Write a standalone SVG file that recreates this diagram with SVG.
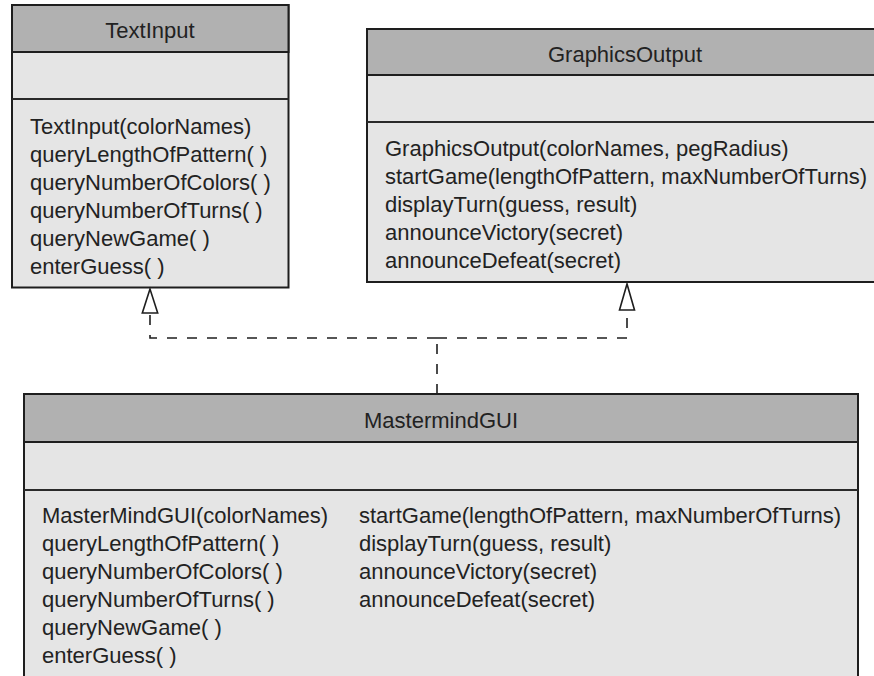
<svg xmlns="http://www.w3.org/2000/svg" width="874" height="676" viewBox="0 0 874 676">
<style>
.hdr{fill:#b1b1b1;stroke:#1e1e1e;stroke-width:2}
.body{fill:#e5e5e5;stroke:#1e1e1e;stroke-width:2}
.sep{stroke:#2a2a2a;stroke-width:2}
text{font-family:"Liberation Sans",Arial,sans-serif;font-size:22px;fill:#222}
.t{text-anchor:middle}
.dash{fill:none;stroke:#1e1e1e;stroke-width:1.6;stroke-dasharray:10 10}
.head{fill:#fff;stroke:#1e1e1e;stroke-width:1.6}
</style>
<rect width="874" height="676" fill="#fff"/>
<g id="TextInput">
<rect class="body" x="12" y="5" width="276.5" height="282.5"/>
<rect class="hdr" x="12" y="5" width="276.5" height="47"/>
<line class="sep" x1="12" y1="99" x2="288.5" y2="99"/>
<text class="t" x="150" y="38">TextInput</text>
<text x="30" y="134">TextInput(colorNames)</text>
<text x="30" y="162">queryLengthOfPattern( )</text>
<text x="30" y="190">queryNumberOfColors( )</text>
<text x="30" y="218">queryNumberOfTurns( )</text>
<text x="30" y="246">queryNewGame( )</text>
<text x="30" y="274">enterGuess( )</text>
</g>
<g id="GraphicsOutput">
<rect class="body" x="367" y="29" width="518" height="253"/>
<rect class="hdr" x="367" y="29" width="518" height="46"/>
<line class="sep" x1="367" y1="122" x2="885" y2="122"/>
<text class="t" x="625" y="62">GraphicsOutput</text>
<text x="385" y="156">GraphicsOutput(colorNames, pegRadius)</text>
<text x="385" y="184">startGame(lengthOfPattern, maxNumberOfTurns)</text>
<text x="385" y="212">displayTurn(guess, result)</text>
<text x="385" y="240">announceVictory(secret)</text>
<text x="385" y="268">announceDefeat(secret)</text>
</g>
<g id="MastermindGUI">
<rect class="body" x="24" y="394" width="834" height="300"/>
<rect class="hdr" x="24" y="394" width="834" height="48"/>
<line class="sep" x1="24" y1="490" x2="858" y2="490"/>
<text class="t" x="441" y="428">MastermindGUI</text>
<text x="42" y="523">MasterMindGUI(colorNames)</text>
<text x="42" y="551">queryLengthOfPattern( )</text>
<text x="42" y="579">queryNumberOfColors( )</text>
<text x="42" y="607">queryNumberOfTurns( )</text>
<text x="42" y="635">queryNewGame( )</text>
<text x="42" y="663">enterGuess( )</text>
<text x="359" y="523">startGame(lengthOfPattern, maxNumberOfTurns)</text>
<text x="359" y="551">displayTurn(guess, result)</text>
<text x="359" y="579">announceVictory(secret)</text>
<text x="359" y="607">announceDefeat(secret)</text>
</g>
<g id="connectors">
<path class="dash" d="M437 394 V338"/>
<path class="dash" d="M437 338 H150 V313"/>
<path class="dash" d="M437 338 H627 V310"/>
<polygon class="head" points="150,289 142.3,313 157.7,313"/>
<polygon class="head" points="627,284 619.5,310 634.5,310"/>
</g>
</svg>
